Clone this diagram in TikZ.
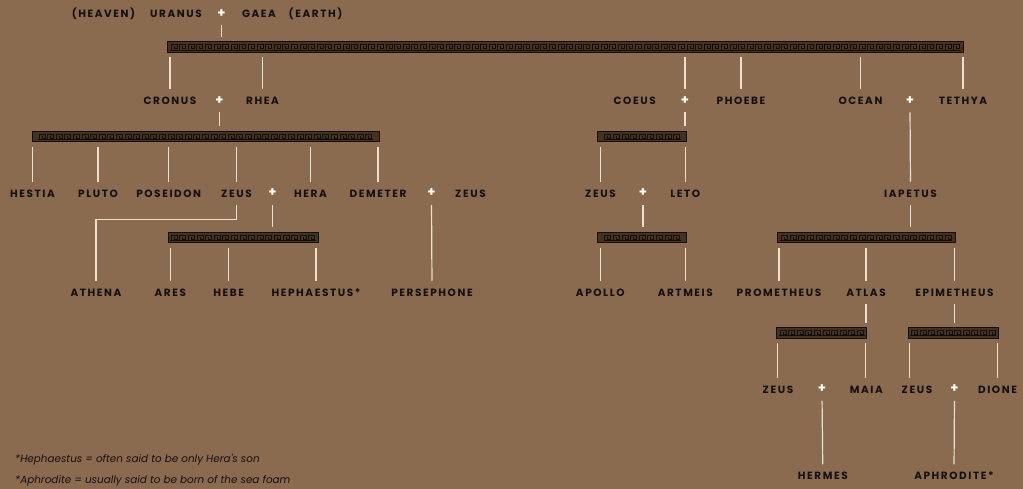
\documentclass[tikz,border=0pt]{standalone}
\usepackage{fontspec}
\newfontfamily\gfont[LetterSpace=15]{Poppins}
\newfontfamily\ffont{Poppins}
\definecolor{bg}{HTML}{8B6B4F}
\definecolor{txt}{HTML}{141010}
\definecolor{ln}{HTML}{EAE0CC}
\definecolor{barfill}{HTML}{45321F}
\definecolor{keyc}{HTML}{140E0A}
\tikzset{
  lbl/.style={font=\gfont\bfseries\fontsize{10.5}{11}\selectfont, text=txt, inner sep=0pt, outer sep=3pt, text height=7.5pt, text depth=0pt},
  pl/.style={font=\ffont\bfseries\fontsize{13}{13}\selectfont, text=white, inner sep=0pt, outer sep=3pt, text height=7pt, text depth=0pt},
  conn/.style={draw=ln, line width=1.2pt, shorten <=5pt, shorten >=5pt},
  barbox/.style={draw=keyc, line width=1pt, fill=barfill, inner sep=0pt, outer sep=0pt},
  keyline/.style={draw=keyc, line width=0.7pt},
  fnote/.style={font=\ffont\itshape\fontsize{10.4}{11}\selectfont, text=txt, anchor=west, inner sep=0pt}
}
\newcommand\gbar[4]{%
  \node[barbox, minimum width={(#3-#2)*1pt}, minimum height=10.5pt] (#1) at ({(#2+#3)/2},{#4+5.25}) {};
  \pgfmathsetmacro\gbw{#3-#2-3}
  \pgfmathtruncatemacro\gbn{\gbw/8.6}
  \pgfmathsetmacro\gbs{(#2+#3)/2 - \gbn*8.6/2+1.2}
  \foreach \i in {1,...,\gbn} {
    \pgfmathsetmacro\gx{\gbs+(\i-1)*8.6}
    \draw[keyline] (\gx,#4+8.3) -- (\gx,#4+2.4) -- (\gx+6,#4+2.4) -- (\gx+6,#4+6.4) -- (\gx+3,#4+6.4) -- (\gx+3,#4+4.4);
  }
  \draw[keyline] ({\gbs-1.2},#4+8.3) -- ({\gbs+\gbn*8.6-1.2},#4+8.3);
}
\begin{document}
\begin{tikzpicture}[x=1pt,y=-1pt]
\fill[bg] (0,0) rectangle (1023,489);
\useasboundingbox (0,0) rectangle (1023,489);
% row 0
\node[lbl] (heaven) at (103.5,14) {(HEAVEN)};
\node[lbl] (uranus) at (176,14) {URANUS};
\node[pl] (p0) at (221.5,14) {+};
\node[lbl] (gaea) at (259,14) {GAEA};
\node[lbl] (earth) at (315.5,14) {(EARTH)};
\gbar{bar1}{167}{963.5}{42}
% row 1
\node[lbl] (cronus) at (170,101) {CRONUS};
\node[pl] (p1) at (219.5,101) {+};
\node[lbl] (rhea) at (262.5,101) {RHEA};
\node[lbl] (coeus) at (634.7,101) {COEUS};
\node[pl] (pc) at (685,101) {+};
\node[lbl] (phoebe) at (741,101) {PHOEBE};
\node[lbl] (ocean) at (860.5,101) {OCEAN};
\node[pl] (po) at (910,101) {+};
\node[lbl] (tethya) at (963,101) {TETHYA};
\gbar{bar2}{32}{379}{131.5}
\gbar{bar3}{597.7}{686.7}{131.5}
% row 2
\node[lbl] (hestia) at (32.5,193.5) {HESTIA};
\node[lbl] (pluto) at (98,193.5) {PLUTO};
\node[lbl] (poseidon) at (168.7,193.5) {POSEIDON};
\node[lbl] (zeusa) at (236.5,193.5) {ZEUS};
\node[pl] (p2) at (272.5,193.5) {+};
\node[lbl] (hera) at (310.5,193.5) {HERA};
\node[lbl] (demeter) at (378,193.5) {DEMETER};
\node[pl] (p3) at (431.5,193.5) {+};
\node[lbl] (zeusb) at (470.5,193.5) {ZEUS};
\node[lbl] (zeusc) at (600.5,193.5) {ZEUS};
\node[pl] (p4) at (643,193.5) {+};
\node[lbl] (leto) at (685.3,193.5) {LETO};
\node[lbl] (iapetus) at (910.5,193.5) {IAPETUS};
\gbar{bar4}{168}{318}{232.5}
\gbar{bar5}{597.7}{686.7}{232.5}
\gbar{bar6}{777.7}{955}{232.5}
% row 3
\node[lbl] (athena) at (96,292.5) {ATHENA};
\node[lbl] (ares) at (170.3,292.5) {ARES};
\node[lbl] (hebe) at (228.7,292.5) {HEBE};
\node[lbl] (heph) at (316,292.5) {HEPHAESTUS*};
\node[lbl] (perse) at (432,292.5) {PERSEPHONE};
\node[lbl] (apollo) at (600.3,292.5) {APOLLO};
\node[lbl] (artmeis) at (685.3,292.5) {ARTMEIS};
\node[lbl] (prom) at (779,292.5) {PROMETHEUS};
\node[lbl] (atlas) at (866,292.5) {ATLAS};
\node[lbl] (epim) at (954.5,292.5) {EPIMETHEUS};
\gbar{bar7}{776.7}{866.7}{327.5}
\gbar{bar8}{908.3}{998.3}{327.5}
% row 4
\node[lbl] (zeusd) at (778,389.3) {ZEUS};
\node[pl] (p5) at (822,389.3) {+};
\node[lbl] (maia) at (866.3,389.3) {MAIA};
\node[lbl] (zeuse) at (917,389.3) {ZEUS};
\node[pl] (p6) at (954.5,389.3) {+};
\node[lbl] (dione) at (997.5,389.3) {DIONE};
% row 5
\node[lbl] (hermes) at (822.8,476) {HERMES};
\node[lbl] (aphro) at (954,476) {APHRODITE*};
% footnotes
\node[fnote] (fn1) at (15,460) {*Hephaestus = often said to be only Hera's son};
\node[fnote] (fn2) at (15,481) {*Aphrodite = usually said to be born of the sea foam};
% connectors
\draw[conn] (p0.south) -- (p0.south |- bar1.north);
\foreach \n in {cronus,rhea,pc,phoebe,ocean,tethya}
  \draw[conn] (bar1.south -| \n) -- (\n.north);
\draw[conn] (p1.south) -- (p1.south |- bar2.north);
\foreach \n in {hestia,pluto,poseidon,zeusa,hera,demeter}
  \draw[conn] (bar2.south -| \n) -- (\n.north);
\draw[conn] (pc.south) -- (pc.south |- bar3.north);
\draw[conn] (bar3.south -| zeusc) -- (zeusc.north);
\draw[conn] (bar3.south -| leto) -- (leto.north);
\draw[conn] (po.south) -- (iapetus.north);
\draw[conn] (zeusa.south) -- ++(0,19.5) -| (athena.north);
\draw[conn] (p2.south) -- (p2.south |- bar4.north);
\foreach \n in {ares,hebe,heph}
  \draw[conn] (bar4.south -| \n) -- (\n.north);
\draw[conn] (p3.south) -- (perse.north);
\draw[conn] (p4.south) -- (p4.south |- bar5.north);
\draw[conn] (bar5.south -| apollo) -- (apollo.north);
\draw[conn] (bar5.south -| artmeis) -- (artmeis.north);
\draw[conn] (iapetus.south) -- (iapetus.south |- bar6.north);
\foreach \n in {prom,atlas,epim}
  \draw[conn] (bar6.south -| \n) -- (\n.north);
\draw[conn] (atlas.south) -- (atlas.south |- bar7.north);
\draw[conn] ([xshift=0.6pt]bar7.south west) -- ([xshift=0.6pt]bar7.south west |- zeusd.north);
\draw[conn] ([xshift=-1pt]bar7.south east) -- ([xshift=-1pt]bar7.south east |- maia.north);
\draw[conn] (epim.south) -- (epim.south |- bar8.north);
\draw[conn] ([xshift=1pt]bar8.south west) -- ([xshift=1pt]bar8.south west |- zeuse.north);
\draw[conn] ([xshift=-1pt]bar8.south east) -- ([xshift=-1pt]bar8.south east |- dione.north);
\draw[conn] (p5.south) -- (hermes.north);
\draw[conn] (p6.south) -- (aphro.north);
\end{tikzpicture}
\end{document}
